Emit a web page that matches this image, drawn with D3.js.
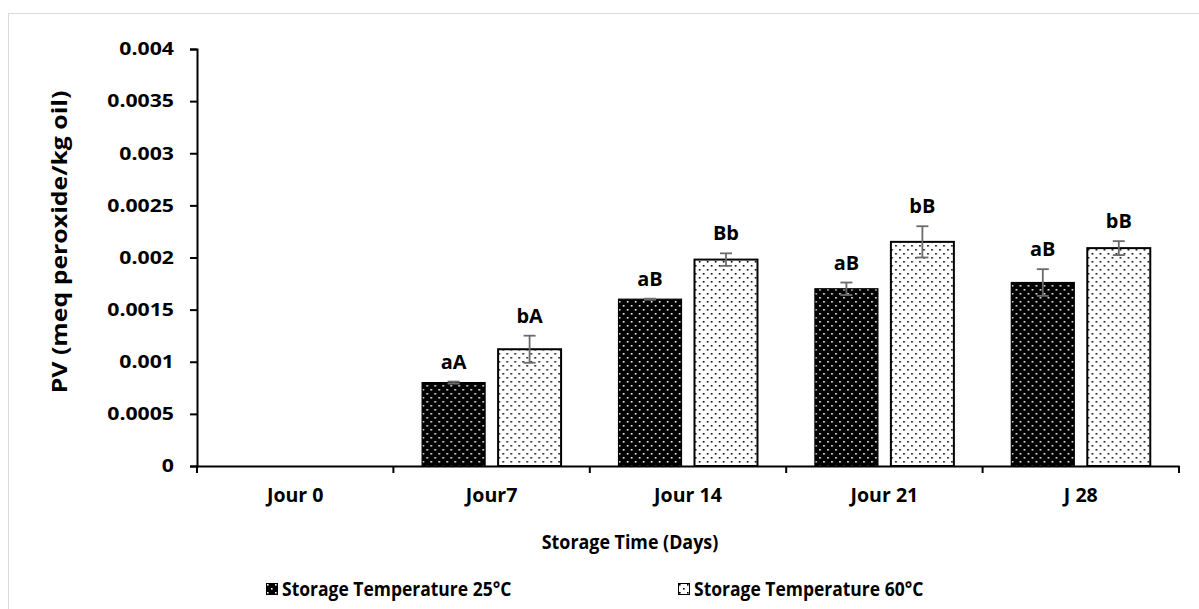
<!DOCTYPE html>
<html>
<head>
<meta charset="utf-8">
<script src="https://cdn.jsdelivr.net/npm/d3@7"></script>
<style>
  html, body { margin: 0; padding: 0; background: #fff; }
  svg { display: block; }
  text { font-family: "Open Sans", "Noto Sans", sans-serif; font-weight: 700; fill: #000; }
</style>
</head>
<body>
<svg id="chart" width="1199" height="609"></svg>
<script>
// Peroxide value over storage time at two storage temperatures
const categories = ["Jour 0", "Jour7", "Jour 14", "Jour 21", "J 28"];
const seriesNames = ["Storage Temperature 25°C", "Storage Temperature 60°C"];
const pv25 = [0, 0.0008, 0.0016, 0.0017, 0.00176];
const pv60 = [0, 0.00112, 0.00198, 0.00215, 0.00209];
const err25 = [0, 0.00001, 0.000005, 0.00006, 0.000128];
const err60 = [0, 0.00013, 0.00006, 0.00015, 0.000067];
const letters25 = ["", "aA", "aB", "aB", "aB"];
const letters60 = ["", "bA", "Bb", "bB", "bB"];
const yTicks = [0, 0.0005, 0.001, 0.0015, 0.002, 0.0025, 0.003, 0.0035, 0.004];
const yTickLabels = ["0", "0.0005", "0.001", "0.0015", "0.002", "0.0025", "0.003", "0.0035", "0.004"];

const svg = d3.select("#chart");
const plot = { left: 197, right: 1179, top: 49, bottom: 466 };

// widen or narrow text horizontally by factor k
function stretch(sel, k) {
  sel.each(function () {
    const w = this.getComputedTextLength();
    if (w > 0) d3.select(this).attr("textLength", w * k).attr("lengthAdjust", "spacingAndGlyphs");
  });
}

// chart area frame
svg.append("rect")
  .attr("x", 8.5).attr("y", 13.5)
  .attr("width", 1200).attr("height", 620)
  .attr("fill", "#fff").attr("stroke", "#d9d9d9").attr("stroke-width", 1);

// dotted fill patterns
const defs = svg.append("defs");
function dotPattern(id, bg, dot) {
  const p = defs.append("pattern").attr("id", id)
    .attr("patternUnits", "userSpaceOnUse").attr("width", 8).attr("height", 8);
  p.append("rect").attr("width", 8).attr("height", 8).attr("fill", bg);
  p.append("rect").attr("x", 1).attr("y", 1).attr("width", 1.6).attr("height", 1.6).attr("fill", dot);
  p.append("rect").attr("x", 5).attr("y", 5).attr("width", 1.6).attr("height", 1.6).attr("fill", dot);
}
dotPattern("dotsDark", "#000", "#fff");
dotPattern("dotsLight", "#fff", "#000");
const fills = ["url(#dotsDark)", "url(#dotsLight)"];

const x0 = d3.scaleBand().domain(categories).range([plot.left, plot.right]).paddingInner(0).paddingOuter(0);
const x1 = d3.scaleBand().domain(seriesNames).range([0, x0.bandwidth()]).paddingInner(0.171).paddingOuter(0.378);
const y = d3.scaleLinear().domain([0, 0.004]).range([plot.bottom, plot.top]);

const rows = categories.map((c, i) => ({
  cat: c,
  vals: [
    { s: seriesNames[0], v: pv25[i], e: err25[i], lab: letters25[i], idx: 0 },
    { s: seriesNames[1], v: pv60[i], e: err60[i], lab: letters60[i], idx: 1 }
  ]
}));

// bars
const groups = svg.append("g").selectAll("g").data(rows).join("g")
  .attr("transform", d => `translate(${x0(d.cat)},0)`);

groups.selectAll("rect.bar").data(d => d.vals.filter(v => v.v > 0)).join("rect")
  .attr("class", "bar")
  .attr("x", d => x1(d.s))
  .attr("y", d => y(d.v))
  .attr("width", x1.bandwidth())
  .attr("height", d => y(0) - y(d.v))
  .attr("fill", d => fills[d.idx])
  .attr("stroke", "#000")
  .attr("stroke-width", d => d.idx === 0 ? 1.2 : 2);

// error bars
const cx = d => x1(d.s) + x1.bandwidth() / 2;
const eb = groups.selectAll("g.err").data(d => d.vals.filter(v => v.v > 0)).join("g").attr("class", "err")
  .attr("stroke", "#6b6b6b").attr("stroke-width", 1.8);
eb.append("line")
  .attr("x1", cx).attr("x2", cx)
  .attr("y1", d => y(d.v + d.e)).attr("y2", d => y(d.v - d.e));
eb.append("line")
  .attr("x1", d => cx(d) - 6).attr("x2", d => cx(d) + 6)
  .attr("y1", d => y(d.v + d.e)).attr("y2", d => y(d.v + d.e));
eb.append("line")
  .attr("x1", d => cx(d) - 6).attr("x2", d => cx(d) + 6)
  .attr("y1", d => y(d.v - d.e)).attr("y2", d => y(d.v - d.e));

// significance letters
const letterText = groups.selectAll("text.lab").data(d => d.vals.filter(v => v.lab)).join("text")
  .attr("class", "lab")
  .attr("x", cx)
  .attr("y", d => y(d.v + d.e) - 13)
  .attr("text-anchor", "middle")
  .attr("font-size", 19)
  .text(d => d.lab);
stretch(letterText, 1.05);

// y axis
const yAxis = svg.append("g")
  .attr("transform", `translate(${plot.left},0)`)
  .call(d3.axisLeft(y).tickValues(yTicks).tickFormat((d, i) => yTickLabels[i]).tickSize(7).tickPadding(16));
yAxis.select(".domain").attr("stroke", "#000").attr("stroke-width", 2);
yAxis.selectAll(".tick line").attr("stroke", "#000").attr("stroke-width", 2);
yAxis.selectAll("text").attr("font-size", 18).attr("fill", "#000")
  .attr("font-family", "'Open Sans', sans-serif");
stretch(yAxis.selectAll("text"), 1.18);

// x axis
const xAxis = svg.append("g")
  .attr("transform", `translate(0,${plot.bottom})`)
  .call(d3.axisBottom(x0).tickSize(0).tickPadding(23));
xAxis.select(".domain").attr("stroke", "#000").attr("stroke-width", 2);
xAxis.selectAll("text").attr("font-size", 19).attr("fill", "#000")
  .attr("font-family", "'Open Sans', sans-serif");
stretch(xAxis.selectAll("text"), 1.03);
// boundary ticks between categories
const bounds = categories.map(c => x0(c)).concat([x0(categories[categories.length - 1]) + x0.bandwidth()]);
xAxis.selectAll("line.sep").data(bounds).join("line").attr("class", "sep")
  .attr("x1", d => d).attr("x2", d => d).attr("y1", 0).attr("y2", 7)
  .attr("stroke", "#000").attr("stroke-width", 2);

// axis titles
const xt = svg.append("text")
  .attr("x", 630).attr("y", 549)
  .attr("text-anchor", "middle").attr("font-size", 19)
  .text("Storage Time (Days)");
stretch(xt, 0.94);

const yt = svg.append("text")
  .attr("transform", "translate(67,242) rotate(-90)")
  .attr("text-anchor", "middle").attr("font-size", 22)
  .text("PV (meq peroxide/kg oil)");
stretch(yt, 1.13);

// legend
const legendX = [266, 678];
const lg = svg.append("g").selectAll("g").data(seriesNames).join("g")
  .attr("transform", (d, i) => `translate(${legendX[i]},583)`);
lg.append("rect").attr("x", 0.5).attr("y", 0.5).attr("width", 11).attr("height", 11)
  .attr("fill", (d, i) => fills[i]).attr("stroke", "#000").attr("stroke-width", 1);
const lt = lg.append("text").attr("x", 16).attr("y", 13).attr("font-size", 19).text(d => d);
stretch(lt, 0.92);
</script>
</body>
</html>
